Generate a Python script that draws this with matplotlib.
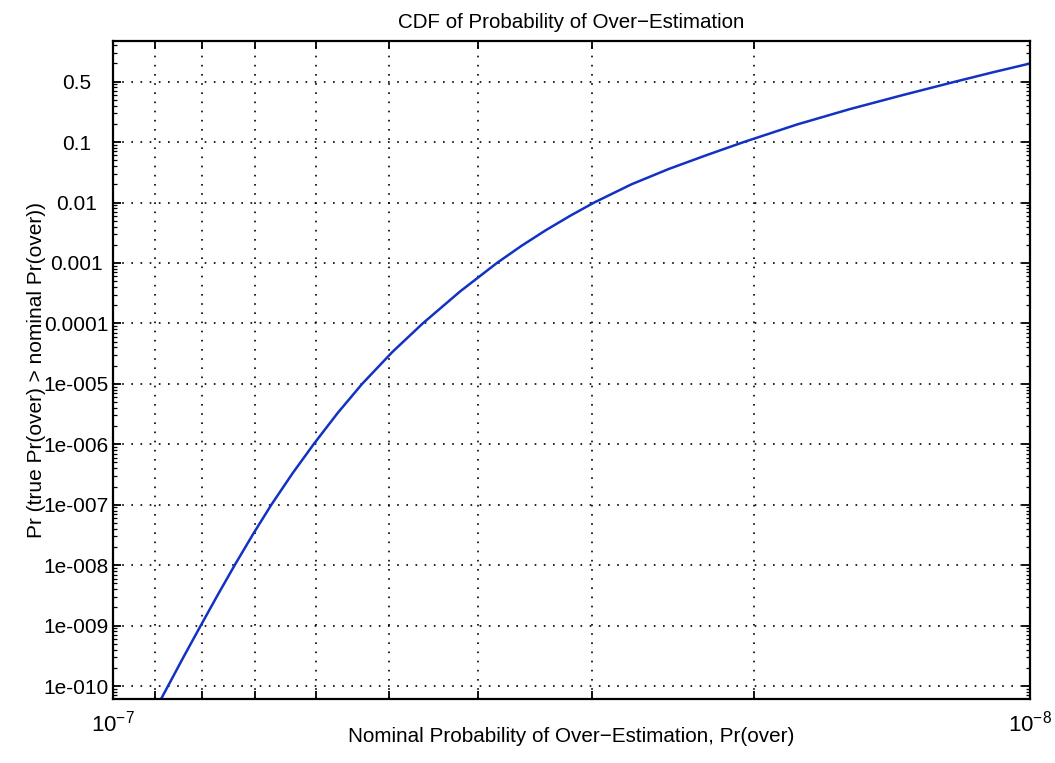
import matplotlib
matplotlib.use("Agg")
import matplotlib.pyplot as plt
from matplotlib.ticker import FixedLocator, LogLocator, NullFormatter, FixedFormatter

plt.rcParams['font.family'] = ['Liberation Sans', 'DejaVu Sans']
plt.rcParams['mathtext.fontset'] = 'custom'
plt.rcParams['mathtext.rm'] = 'Liberation Sans'
plt.rcParams['mathtext.it'] = 'Liberation Sans:italic'
plt.rcParams['mathtext.bf'] = 'Liberation Sans:bold'

# ---- data ----
nominal_pr = [8.913e-8, 8.710e-8, 8.361e-8, 8.023e-8, 7.688e-8, 7.367e-8,
              7.035e-8, 6.719e-8, 6.372e-8, 6.043e-8, 5.686e-8, 5.349e-8,
              4.958e-8, 4.594e-8, 4.183e-8, 3.813e-8, 3.587e-8, 3.375e-8,
              3.175e-8, 2.987e-8, 2.720e-8, 2.476e-8, 2.254e-8, 2.052e-8,
              1.796e-8, 1.573e-8, 1.377e-8, 1.206e-8, 1.098e-8, 1.0e-8]
cdf_prob = [5.21e-11, 1e-10, 3.188e-10, 1e-9, 3.212e-9, 1e-8,
            3.257e-8, 1e-7, 3.293e-7, 1e-6, 3.320e-6, 1e-5,
            3.368e-5, 1e-4, 3.375e-4, 1e-3, 1.910e-3, 3.461e-3,
            5.993e-3, 1e-2, 2.001e-2, 3.596e-2, 6.058e-2, 0.1,
            0.1948, 0.3500, 0.5979, 1.0, 1.4246, 1.995]

x_ticks = [1e-7, 9e-8, 8e-8, 7e-8, 6e-8, 5e-8, 4e-8, 3e-8, 2e-8, 1e-8]
x_tick_labels = [r'$\mathregular{10^{-7}}$', '', '', '', '', '', '', '', '',
                 r'$\mathregular{10^{-8}}$']
y_ticks = [1, 1e-1, 1e-2, 1e-3, 1e-4, 1e-5, 1e-6, 1e-7, 1e-8, 1e-9, 1e-10]
y_tick_labels = ['0.5', '0.1', '0.01', '0.001', '0.0001', '1e-005', '1e-006',
                 '1e-007', '1e-008', '1e-009', '1e-010']

title = 'CDF of Probability of Over\u2212Estimation'
xlabel = 'Nominal Probability of Over\u2212Estimation, Pr(over)'
ylabel = 'Pr (true Pr(over) > nominal Pr(over))'

# ---- figure ----
W, H = 1055, 763
fig = plt.figure(figsize=(W / 100, H / 100), dpi=100)
L, R, T, B = 113, 1030, 41, 699
ax = fig.add_axes([L / W, 1 - B / H, (R - L) / W, (B - T) / H])

ax.plot(nominal_pr, cdf_prob, color='#1232c4', lw=1.8, solid_capstyle='butt',
        solid_joinstyle='round')

ax.set_xscale('log')
ax.set_yscale('log')
ax.set_xlim(1e-7, 1e-8)
ax.set_ylim(6.1e-11, 4.7)

ax.xaxis.set_major_locator(FixedLocator(x_ticks))
ax.xaxis.set_major_formatter(FixedFormatter(x_tick_labels))
ax.xaxis.set_minor_locator(FixedLocator([]))
ax.xaxis.set_minor_formatter(NullFormatter())

ax.yaxis.set_major_locator(FixedLocator(y_ticks))
ax.yaxis.set_major_formatter(FixedFormatter(y_tick_labels))
ax.yaxis.set_minor_locator(LogLocator(base=10, subs=range(2, 10), numticks=20))
ax.yaxis.set_minor_formatter(NullFormatter())

ax.tick_params(which='both', direction='in', top=True, right=True, width=1.3,
               colors='black')
ax.tick_params(which='major', length=6)
ax.tick_params(which='minor', length=3, width=0.9)
ax.tick_params(axis='y', which='major', labelsize=15, pad=26.5)
ax.tick_params(axis='x', which='major', labelsize=16, pad=8)
for lab in ax.get_yticklabels():
    lab.set_horizontalalignment('center')

ax.grid(True, which='major', color='black', linestyle=(0, (1, 4.5)), lw=1.2)

for s in ax.spines.values():
    s.set_linewidth(1.6)
    s.set_color('black')

ax.set_title(title, fontsize=14.8, va='center', y=1 + 19 / (B - T), pad=0)
ax.set_xlabel(xlabel, fontsize=14.9, va='center')
ax.xaxis.set_label_coords(0.5, -(737 - B) / (B - T))
ax.set_ylabel(ylabel, fontsize=15, va='center')
ax.yaxis.set_label_coords(-(L - 37) / (R - L), 0.5)

fig.savefig('out.png', dpi=100, facecolor='white')
